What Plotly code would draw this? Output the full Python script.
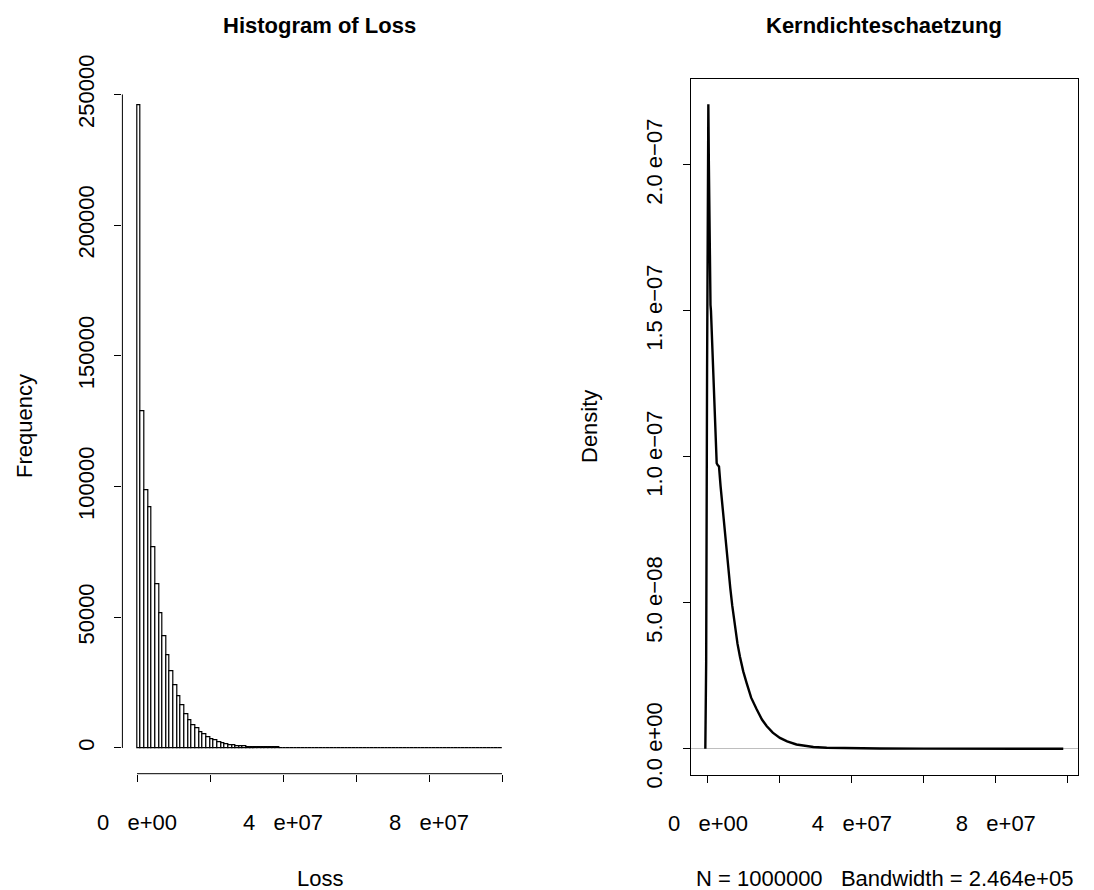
import plotly.graph_objects as go

W, H = 1094, 890
OFF = 8  # page body margin offset in the browser

# ---------------- data ----------------
bin_start = 0.0
bin_width = 1e6
loss_counts = [
    246000, 129000, 98600, 92000, 76700, 62500, 51700, 42900, 35500, 29200,
    24200, 19800, 16200, 13100, 10600, 8900, 7400, 6200, 5100, 4200,
    3400, 2800, 2200, 1800, 1400, 1100, 900, 750, 600, 500,
    420, 350, 300, 250, 210, 180, 150, 130, 110, 95,
    80, 70, 60, 52, 45, 40, 35, 30, 27, 24,
    21, 19, 17, 15, 13, 12, 11, 10, 9, 8,
    7, 7, 6, 6, 5, 5, 4, 4, 4, 3,
    3, 3, 3, 2, 2, 2, 2, 2, 2, 1,
    1, 1, 1, 1, 1, 1, 1, 1, 1, 1,
    1, 1, 0, 1, 0, 1, 0, 0, 0, 1,
]
hist_yticks = [0, 50000, 100000, 150000, 200000, 250000]
hist_ytext = ["0", "50000", "100000", "150000", "200000", "250000"]
x_ticks = [0, 2e7, 4e7, 6e7, 8e7, 1e8]
x_ticktext = ["0\u00a0\u00a0\u00a0e+00", "", "4\u00a0\u00a0\u00a0e+07", "", "8\u00a0\u00a0\u00a0e+07", ""]

dens_x = [-7.4e5, -5e5, -2.5e5, 0, 1e5, 2.5e5, 4e5, 5.5e5, 7e5, 8.3e5,
          1.0e6, 1.19e6, 1.47e6, 1.94e6, 2.22e6, 2.42e6, 2.7e6, 3.06e6, 3.5e6, 4.0e6,
          4.72e6, 5.2e6, 5.64e6, 6.2e6, 6.75e6, 7.5e6, 8.2e6, 8.89e6, 9.8e6, 1.075e7,
          1.2e7, 1.353e7, 1.5e7, 1.63e7, 1.8e7, 2.0e7, 2.2e7, 2.46e7, 2.7e7, 2.93e7,
          3.3e7, 3.85e7, 4.3e7, 4.78e7, 6e7, 8e7, 9.876e7]
dens_y = [0.0, 0.3e-7, 1.3e-7, 2.15e-7, 2.208e-7, 2.0e-7, 1.75e-7, 1.6e-7, 1.52e-7, 1.5e-7,
          1.44e-7, 1.366e-7, 1.252e-7, 1.138e-7, 1.024e-7, 0.978e-7, 0.972e-7, 0.967e-7, 0.90e-7, 0.83e-7,
          0.74e-7, 0.67e-7, 0.615e-7, 0.55e-7, 0.49e-7, 0.42e-7, 0.36e-7, 0.315e-7, 0.265e-7, 0.225e-7,
          0.175e-7, 0.135e-7, 0.100e-7, 0.078e-7, 0.055e-7, 0.037e-7, 0.025e-7, 0.0145e-7, 0.009e-7, 0.006e-7,
          0.0035e-7, 0.0022e-7, 0.0015e-7, 0.001e-7, 0.0003e-7, 0.0001e-7, 0.0]
dens_yticks = [0, 5e-8, 1e-7, 1.5e-7, 2e-7]
dens_ytext = ["0.0\u00a0e+00", "5.0\u00a0e\u221208", "1.0\u00a0e\u221207", "1.5\u00a0e\u221207", "2.0\u00a0e\u221207"]

title_left = "Histogram of Loss"
title_right = "Kerndichteschaetzung"
xlab_left = "Loss"
ylab_left = "Frequency"
xlab_right = "N = 1000000   Bandwidth = 2.464e+05"
ylab_right = "Density"

# ---------------- layout helpers ----------------
FONT = "Liberation Sans, Arial, sans-serif"
FS = 22


def px_dom_x(a, b):
    return [(a - OFF) / W, (b - OFF) / W]


def px_dom_y(top, bottom):
    return [1 - (bottom - OFF) / H, 1 - (top - OFF) / H]


n_bins = len(loss_counts)
centers = [bin_start + (i + 0.5) * bin_width for i in range(n_bins)]
x_span = n_bins * bin_width
hx_range = [bin_start - 0.04 * x_span, bin_start + x_span * 1.04]
hy_max = max(loss_counts)
hy_range = [-0.04 * hy_max, 1.04 * hy_max]

d_span = max(dens_x) - min(dens_x)
dx_range = [min(dens_x) - 0.04 * d_span, max(dens_x) + 0.04 * d_span]
dy_max = max(dens_y)
dy_range = [-0.04 * dy_max, 1.04 * dy_max]

fig = go.Figure()

fig.add_trace(go.Bar(
    x=centers, y=loss_counts, width=[bin_width] * n_bins,
    marker=dict(color="white", line=dict(color="black", width=1.2)),
    xaxis="x", yaxis="y", showlegend=False, hoverinfo="x+y",
))

fig.add_trace(go.Scatter(
    x=dens_x, y=dens_y, mode="lines",
    line=dict(color="black", width=2.4),
    xaxis="x2", yaxis="y2", showlegend=False,
))

axis_common = dict(showgrid=False, ticks="outside", ticklen=7, automargin=False,
                   tickwidth=1, tickcolor="black", fixedrange=True)

fig.update_layout(
    width=W, height=H, autosize=False,
    margin=dict(l=0, r=0, t=0, b=0, pad=0, autoexpand=False),
    paper_bgcolor="white", plot_bgcolor="white",
    bargap=0,
    xaxis=dict(domain=px_dom_x(122.4, 516.6), range=hx_range, anchor="y",
               tickvals=x_ticks, ticktext=x_ticktext, showline=False, zeroline=False,
               tickfont=dict(family=FONT, size=FS, color="black"),
               ticklabelstandoff=22, **axis_common),
    yaxis=dict(domain=px_dom_y(79.2, 773.7), range=hy_range, anchor="x",
               tickvals=hist_yticks, ticktext=hist_ytext, tickangle=-90,
               showline=False, zeroline=False,
               tickfont=dict(family=FONT, size=FS, color="black"),
               ticklabelstandoff=12, **axis_common),
    xaxis2=dict(domain=px_dom_x(691, 1077.6), range=dx_range, anchor="y2",
                tickvals=x_ticks, ticktext=x_ticktext, zeroline=False,
                showline=True, mirror=True, linecolor="black", linewidth=1,
                tickfont=dict(family=FONT, size=FS, color="black"),
                ticklabelstandoff=22, **axis_common),
    yaxis2=dict(domain=px_dom_y(78.5, 774.5), range=dy_range, anchor="x2",
                tickvals=dens_yticks, ticktext=dens_ytext, tickangle=-90,
                showline=True, mirror=True, linecolor="black", linewidth=1,
                tickfont=dict(family=FONT, size=FS, color="black"),
                ticklabelstandoff=12,
                zeroline=True, zerolinecolor="#bebebe", zerolinewidth=1,
                **axis_common),
)

# R-style axis lines spanning only first..last tick (left panel)
fig.add_shape(type="line", xref="x", yref="y domain",
              x0=min(x_ticks), x1=max(x_ticks), y0=0, y1=0,
              line=dict(color="black", width=1))
fig.add_shape(type="line", xref="x domain", yref="y",
              x0=0, x1=0, y0=min(hist_yticks), y1=max(hist_yticks),
              line=dict(color="black", width=1))


def ann(text, px, py, size, angle=0):
    fig.add_annotation(text=text, x=(px - OFF) / W, y=1 - (py - OFF) / H,
                       xref="paper", yref="paper",
                       xanchor="center", yanchor="middle", showarrow=False,
                       textangle=angle, font=dict(family=FONT, size=size, color="black"))


ann("<b>%s</b>" % title_left, 319.5, 25, 22)
ann("<b>%s</b>" % title_right, 884, 25, 22)
ann(xlab_left, 319.5, 878, FS)
ann(xlab_right, 884, 878, FS)
ann(ylab_left, 25, 426, FS, -90)
ann(ylab_right, 590, 426, FS, -90)

fig.write_html("out.html")
